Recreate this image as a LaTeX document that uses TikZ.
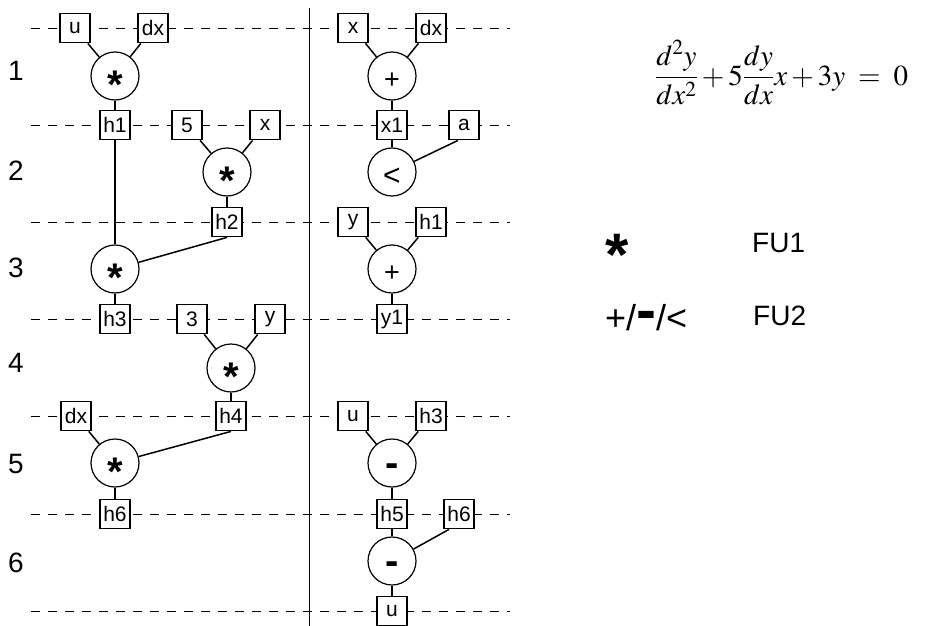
\documentclass[tikz,border=0pt]{standalone}
\usepackage{mathptmx}
\usepackage[no-math]{fontspec}
\setsansfont{Liberation Sans}
\usetikzlibrary{positioning}

\newcommand{\opmul}{\raisebox{-22.5pt}[0pt][0pt]{\fontsize{40}{40}\selectfont\bfseries *}}
\newcommand{\opsub}{\raisebox{-13.5pt}[0pt][0pt]{\fontsize{40}{40}\selectfont\bfseries -}}
\newcommand{\opadd}{\raisebox{-12.5pt}[0pt][0pt]{\fontsize{27}{27}\selectfont +}}
\newcommand{\oplt}{\raisebox{-13.5pt}[0pt][0pt]{\fontsize{30}{30}\selectfont <}}

\begin{document}
\begin{tikzpicture}[
  x=1pt, y=-1pt,
  reg/.style={rectangle, draw, fill=white, line width=1.8pt,
              minimum width=30pt, minimum height=29pt, inner sep=0pt,
              font=\fontsize{21}{21}\sffamily},
  op/.style={circle, draw, fill=white, line width=1.2pt,
             minimum size=48pt, inner sep=0pt, font=\sffamily},
  wire/.style={line width=1.5pt},
  stepline/.style={dash pattern=on 9pt off 8pt, line width=0.9pt},
  sepline/.style={line width=1pt},
  rowlbl/.style={anchor=base, font=\fontsize{28}{28}\sffamily},
  fulbl/.style={anchor=base west, font=\fontsize{28}{28}\sffamily}
]
\useasboundingbox (0,0) rectangle (931,626);

% ==================== CONTROL STEPS ====================
\foreach \y in {28,125,222,319,416,514,611}
  \draw[stepline] (31,\y) -- (510,\y);
\draw[sepline] (309,8) -- (309,626);

\foreach \n/\y in {1/80,2/180,3/277,4/372,5/473,6/572}
  \node[rowlbl] (row\n) at (16,\y) {\n};

% ==================== FU1 (MULTIPLY) ====================
\node[reg] (u1)  at (75,28)  {u};
\node[reg] (dx1) at (153,28) {dx};
\node[op]  (mul1) at (115,76) {\opmul};
\node[reg] (h1)  at (115,125) {h1};

\node[reg] (c5)  at (187,125) {5};
\node[reg] (x2)  at (265,125) {x};
\node[op]  (mul2) at (227,172) {\opmul};
\node[reg] (h2)  at (227,222) {h2};

\node[op]  (mul3) at (115,269) {\opmul};
\node[reg] (h3)  at (115,319) {h3};

\node[reg] (c3)  at (192,319) {3};
\node[reg] (y4)  at (270,319) {y};
\node[op]  (mul4) at (231,368) {\opmul};
\node[reg] (h4)  at (231,416) {h4};

\node[reg] (dx5) at (76,416) {dx};
\node[op]  (mul5) at (115,463) {\opmul};
\node[reg] (h6)  at (115,514) {h6};

% ==================== FU2 (ADD / SUB / CMP) ====================
\node[reg] (xr)  at (353,28)  {x};
\node[reg] (dxr) at (431,28)  {dx};
\node[op]  (add1) at (392,76) {\opadd};
\node[reg] (x1)  at (392,125) {x1};
\node[reg] (ar)  at (464,125) {a};
\node[op]  (lt1) at (392,172) {\oplt};

\node[reg] (yr)  at (353,222) {y};
\node[reg] (h1r) at (431,222) {h1};
\node[op]  (add2) at (392,269) {\opadd};
\node[reg] (y1)  at (392,319) {y1};

\node[reg] (ur)  at (353,416) {u};
\node[reg] (h3r) at (431,416) {h3};
\node[op]  (sub1) at (392,463) {\opsub};
\node[reg] (h5)  at (392,514) {h5};
\node[reg] (h6r) at (459,514) {h6};
\node[op]  (sub2) at (392,561) {\opsub};
\node[reg] (uout) at (392,611) {u};

% ==================== WIRES ====================
\draw[wire] (u1) -- (mul1);
\draw[wire] (dx1) -- (mul1);
\draw[wire] (mul1) -- (h1);
\draw[wire] (c5) -- (mul2);
\draw[wire] (x2) -- (mul2);
\draw[wire] (mul2) -- (h2);
\draw[wire] (h1) -- (mul3);
\draw[wire] (h2.south) -- (mul3);
\draw[wire] (mul3) -- (h3);
\draw[wire] (c3) -- (mul4);
\draw[wire] (y4) -- (mul4);
\draw[wire] (mul4) -- (h4);
\draw[wire] (dx5) -- (mul5);
\draw[wire] (h4.south) -- (mul5);
\draw[wire] (mul5) -- (h6);

\draw[wire] (xr) -- (add1);
\draw[wire] (dxr) -- (add1);
\draw[wire] (add1) -- (x1);
\draw[wire] (x1) -- (lt1);
\draw[wire] ([xshift=-6pt]ar.south) -- (lt1);
\draw[wire] (yr) -- (add2);
\draw[wire] (h1r) -- (add2);
\draw[wire] (add2) -- (y1);
\draw[wire] (ur) -- (sub1);
\draw[wire] (h3r) -- (sub1);
\draw[wire] (sub1) -- (h5);
\draw[wire] (h5) -- (sub2);
\draw[wire] ([xshift=-10pt]h6r.south) -- (sub2);
\draw[wire] (sub2) -- (uout);

% ==================== EQUATION AND LEGEND ====================
\node[anchor=base west, inner sep=0pt, font=\fontsize{29}{29}\selectfont] (eqn) at (655,85)
  {$\displaystyle\frac{d^2y}{dx^2}+5\frac{dy}{dx}x+3y\;=\;0$};

\node[anchor=base, inner sep=0pt, font=\fontsize{60}{60}\sffamily\bfseries] (legmul) at (617,275) {*};
\node[anchor=base west, inner sep=0pt, font=\sffamily] (legadd) at (605,330)
  {{\fontsize{36}{36}\selectfont +/}{\fontsize{60}{60}\selectfont\bfseries -}{\fontsize{36}{36}\selectfont /<}};
\node[fulbl, inner sep=0pt] (fu1) at (752,252) {FU1};
\node[fulbl, inner sep=0pt] (fu2) at (753,325) {FU2};

\end{tikzpicture}
\end{document}
